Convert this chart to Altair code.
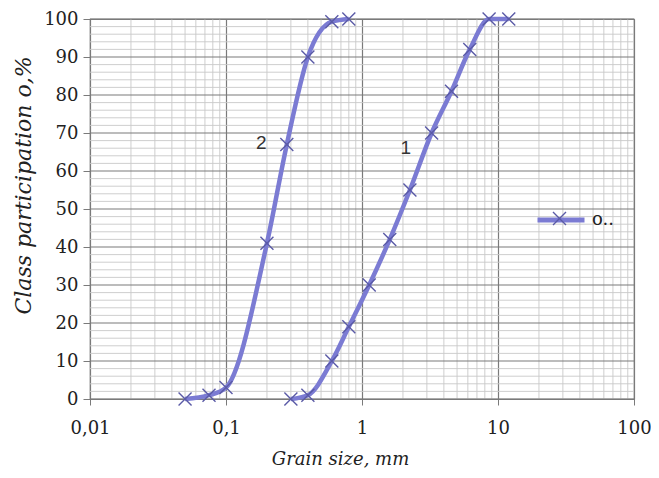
import altair as alt
import pandas as pd

# ---- data ----
curve2_size = [0.05, 0.075, 0.1, 0.2, 0.28, 0.4, 0.6, 0.8]
curve2_pct = [0, 1, 3, 41, 67, 90, 99.3, 100]
curve1_size = [0.3, 0.4, 0.6, 0.8, 1.13, 1.6, 2.25, 3.25, 4.55, 6.2, 8.6, 12]
curve1_pct = [0, 1, 10, 19, 30, 42, 55, 70, 81, 92, 100, 100]

label_text = ["2", "1"]
label_x = [0.182, 2.1]
label_y = [67.5, 66]

series_name = "o.."
x_major = [0.01, 0.1, 1, 10, 100]
y_major = list(range(0, 101, 10))
x_minor = [round(m * d, 4) for d in [0.01, 0.1, 1, 10] for m in range(2, 10)]
y_minor = [v for v in range(2, 100, 2) if v % 10 != 0]

rows = []
for s, p in zip(curve2_size, curve2_pct):
    rows.append({"curve": "2", "size": s, "pct": p, "series": series_name, "marker": series_name})
for s, p in zip(curve1_size, curve1_pct):
    rows.append({"curve": "1", "size": s, "pct": p, "series": series_name, "marker": series_name})
df = pd.DataFrame(rows)
lab = pd.DataFrame({"t": label_text, "size": label_x, "pct": label_y})
xmin_df = pd.DataFrame({"size": x_minor})
ymin_df = pd.DataFrame({"pct": y_minor})
ymaj_df = pd.DataFrame({"pct": y_major})

LINE = "#7b7bd3"
MARK = "#5a5aa6"
MAJ = "#7a7a7a"
MIN = "#c8c8c8"
FONT = "DejaVu Serif"

x_axis = alt.Axis(
    values=x_major, grid=True, gridColor=MAJ, gridWidth=1.2,
    tickColor=MAJ, tickSize=6,
    labelExpr="replace(toString(datum.value), '.', ',')",
    labelOverlap=False, labelFlush=False, labelBound=False,
    labelFont=FONT, labelFontSize=18, labelColor="#222", labelPadding=14,
    title="Grain size, mm", titleFont=FONT, titleFontSize=18, titleFontStyle="italic",
    titleFontWeight="normal", titleColor="#222",
    titleX=250, titleY=60, titleAlign="center", titleBaseline="middle",
    domainColor=MAJ,
)
y_axis = alt.Axis(
    values=y_major, tickCount=11, grid=False,
    tickColor=MAJ, tickSize=7,
    labelFont=FONT, labelFontSize=18, labelColor="#222", labelPadding=5,
    title="Class  participation o,%", titleFont=FONT, titleFontSize=22, titleFontStyle="italic",
    titleFontWeight="normal", titleColor="#222",
    titleX=-67, titleY=166, titleAlign="center", titleBaseline="middle",
    domainColor=MAJ,
)

xs = alt.Scale(type="log", domain=[0.01, 100], nice=False)
ys = alt.Scale(domain=[0, 100], nice=False)

xgrid = alt.Chart(xmin_df).mark_rule(color=MIN, strokeWidth=0.9).encode(
    x=alt.X("size:Q", scale=xs, axis=x_axis),
    y=alt.datum(0), y2=alt.datum(100),
)
ygrid = alt.Chart(ymin_df).mark_rule(color=MIN, strokeWidth=0.9).encode(
    y=alt.Y("pct:Q", scale=ys, axis=y_axis),
    x=alt.datum(0.01), x2=alt.datum(100),
)
ygrid_major = alt.Chart(ymaj_df).mark_rule(color=MAJ, strokeWidth=1.2).encode(
    y=alt.Y("pct:Q", scale=ys, axis=y_axis),
    x=alt.datum(0.01), x2=alt.datum(100),
)

line = alt.Chart(df).mark_line(interpolate="monotone", strokeWidth=4.5).encode(
    x=alt.X("size:Q", scale=xs, axis=x_axis),
    y=alt.Y("pct:Q", scale=ys, axis=y_axis),
    detail="curve:N",
    color=alt.Color("series:N", scale=alt.Scale(domain=[series_name], range=[LINE]),
                    legend=alt.Legend(title=None, orient="none", legendX=445, legendY=175,
                                      symbolType="stroke", symbolSize=2209, symbolStrokeWidth=5,
                                      symbolStrokeColor=LINE,
                                      labelFont=FONT, labelFontSize=18, labelColor="#222",
                                      labelOffset=5, padding=0)),
)

XPATH = "M-1,-1L1,1M-1,1L1,-1"
points = alt.Chart(df).mark_point(filled=False, strokeWidth=1.4, size=169, opacity=1).encode(
    x=alt.X("size:Q", scale=xs, axis=x_axis),
    y=alt.Y("pct:Q", scale=ys, axis=y_axis),
    color=alt.value(MARK),
    shape=alt.Shape("marker:N", scale=alt.Scale(domain=[series_name], range=[XPATH]),
                    legend=alt.Legend(title=None, orient="none", legendX=462, legendY=192,
                                      symbolStrokeColor=MARK, symbolStrokeWidth=1.4, symbolSize=169,
                                      symbolFillColor="transparent",
                                      labelExpr="''", padding=0)),
)

texts = alt.Chart(lab).mark_text(font="Liberation Sans", fontSize=19, color="#333").encode(
    x=alt.X("size:Q", scale=xs, axis=x_axis),
    y=alt.Y("pct:Q", scale=ys, axis=y_axis),
    text="t:N",
)

chart = alt.layer(xgrid, ygrid, ygrid_major, line, points, texts).resolve_legend(
    color="independent", shape="independent"
).properties(
    width=544, height=380,
    autosize=alt.AutoSizeParams(type="none"),
    padding={"left": 82, "top": 11, "right": 17, "bottom": 71},
    background="white",
).configure_view(stroke=MAJ, strokeWidth=1.2)

chart.save("out.html", embed_options={"renderer": "svg", "actions": False})
